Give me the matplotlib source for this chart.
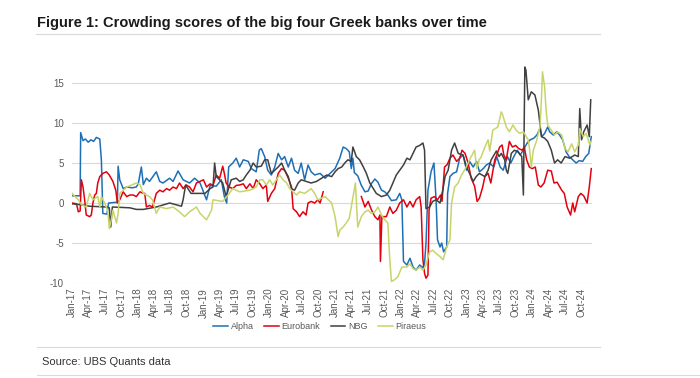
import numpy as np
import pandas as pd
import matplotlib

matplotlib.use("Agg")
import matplotlib.pyplot as plt
import matplotlib.dates as mdates
from matplotlib.lines import Line2D

plt.rcParams["font.family"] = ["Liberation Sans", "DejaVu Sans"]

# ---- data ----
alpha_dates = [
    "2017-01-01", "2017-02-15", "2017-02-18", "2017-03-03", "2017-03-16", "2017-04-01", "2017-04-16",
    "2017-05-01", "2017-05-16", "2017-06-04", "2017-06-13", "2017-06-21", "2017-07-14", "2017-07-23",
    "2017-09-10", "2017-09-14", "2017-09-23", "2017-10-12", "2017-11-01", "2017-12-01", "2017-12-24",
    "2018-01-04", "2018-01-21", "2018-02-01", "2018-02-18", "2018-03-07", "2018-04-14", "2018-05-03",
    "2018-05-21", "2018-06-27", "2018-07-16", "2018-08-13", "2018-09-10", "2018-10-16", "2018-11-13",
    "2018-12-13", "2019-01-18", "2019-02-07", "2019-03-13", "2019-04-10", "2019-04-27", "2019-05-10",
    "2019-05-21", "2019-06-13", "2019-07-02", "2019-07-21", "2019-08-10", "2019-09-07", "2019-09-24",
    "2019-10-21", "2019-11-07", "2019-11-18", "2019-12-07", "2019-12-24", "2020-01-13", "2020-02-01",
    "2020-02-20", "2020-03-10", "2020-03-27", "2020-04-16", "2020-05-04", "2020-05-21", "2020-06-10",
    "2020-06-27", "2020-07-16", "2020-08-04", "2020-08-21", "2020-09-10", "2020-10-10", "2020-11-07",
    "2020-12-04", "2021-01-01", "2021-01-27", "2021-02-15", "2021-03-04", "2021-03-21", "2021-04-01",
    "2021-04-10", "2021-04-18", "2021-05-07", "2021-05-27", "2021-06-16", "2021-07-04", "2021-07-21",
    "2021-08-10", "2021-08-27", "2021-09-16", "2021-10-04", "2021-10-21", "2021-11-10", "2021-12-07",
    "2021-12-26", "2022-01-07", "2022-01-16", "2022-02-04", "2022-02-21", "2022-03-10", "2022-03-27",
    "2022-04-16", "2022-05-04", "2022-05-13", "2022-05-21", "2022-06-01", "2022-06-18", "2022-07-04",
    "2022-07-16", "2022-07-24", "2022-08-07", "2022-08-16", "2022-08-27", "2022-09-13", "2022-09-18",
    "2022-10-01", "2022-10-18", "2022-11-07", "2022-11-24", "2022-12-13", "2023-01-01", "2023-01-18",
    "2023-02-07", "2023-02-26", "2023-03-14", "2023-04-04", "2023-04-21", "2023-05-10", "2023-06-01",
    "2023-06-18", "2023-07-07", "2023-07-24", "2023-08-16", "2023-09-04", "2023-09-21", "2023-10-10",
    "2023-10-27", "2023-11-16", "2023-12-04", "2023-12-21", "2024-01-10", "2024-01-27", "2024-02-13",
    "2024-02-24", "2024-03-10", "2024-03-27", "2024-04-07", "2024-04-27", "2024-05-16", "2024-06-01",
    "2024-06-18", "2024-07-07", "2024-07-24", "2024-08-13", "2024-09-01", "2024-09-18", "2024-10-07",
    "2024-10-24", "2024-11-10", "2024-11-24",
]
alpha_vals = [
    0.9, 0.9, 8.8, 7.8, 8.0, 7.6, 7.9,
    7.7, 8.2, 8.0, 5.4, -1.3, -1.4, 0.0,
    0.1, 4.6, 2.9, 1.8, 2.0, 1.9, 2.0,
    2.4, 4.5, 2.3, 3.1, 2.7, 3.9, 2.7,
    2.5, 3.1, 2.7, 4.0, 2.9, 2.5, 3.1,
    2.5, 0.4, 2.2, 2.1, 2.9, 0.8, 0.0,
    4.5, 5.0, 5.6, 4.5, 5.4, 5.2, 4.3,
    3.9, 6.6, 6.8, 5.8, 4.1, 3.5, 4.5,
    6.2, 5.4, 5.8, 4.5, 5.6, 4.1, 3.7,
    5.0, 2.9, 4.75, 3.9, 3.5, 3.7, 3.1,
    3.7, 4.3, 5.6, 7.0, 6.8, 6.4, 4.3,
    5.6, 3.8, 3.4, 2.2, 1.4, 1.5, 2.4,
    3.0, 2.6, 1.6, 1.4, 1.0, 0.3, 0.4,
    1.2, 0.4, -7.3, -7.75, -6.9, -8.0, -8.4,
    -7.75, -8.1, -7.5, -5.0, 1.6, 3.9, 5.0,
    0.4, -4.6, -5.5, -5.0, -6.1, -5.5, 1.2,
    3.3, 3.7, 3.9, 5.6, 6.0, 4.1, 5.2,
    4.5, 5.2, 3.9, 4.3, 4.75, 5.0, 4.5,
    5.8, 4.5, 4.1, 5.8, 5.0, 5.8, 6.6,
    6.0, 6.8, 7.5, 7.9, 8.1, 8.5, 9.3,
    8.3, 8.7, 9.5, 8.9, 8.5, 8.9, 8.5,
    7.9, 6.4, 5.8, 5.4, 5.0, 5.3, 5.2,
    5.8, 6.2, 8.3,
]

eurobank_dates = [
    "2017-01-01", "2017-01-26", "2017-02-05", "2017-02-15", "2017-02-22", "2017-03-03", "2017-03-12",
    "2017-03-21", "2017-04-09", "2017-04-18", "2017-04-27", "2017-05-07", "2017-05-16", "2017-05-24",
    "2017-06-04", "2017-06-21", "2017-07-11", "2017-07-27", "2017-08-16", "2017-09-01", "2017-09-10",
    "2017-09-23", "2017-10-12", "2017-11-01", "2017-11-18", "2017-12-07", "2017-12-24", "2018-01-13",
    "2018-02-01", "2018-02-09", "2018-02-18", "2018-03-07", "2018-03-24", "2018-04-14", "2018-05-03",
    "2018-05-21", "2018-06-10", "2018-06-27", "2018-07-16", "2018-08-04", "2018-08-21", "2018-09-10",
    "2018-09-27", "2018-10-16", "2018-11-04", "2018-11-23", "2018-12-13", "2019-01-01", "2019-01-18",
    "2019-02-07", "2019-02-23", "2019-03-13", "2019-04-01", "2019-04-18", "2019-04-27", "2019-05-07",
    "2019-05-24", "2019-06-13", "2019-07-02", "2019-07-21", "2019-08-10", "2019-08-27", "2019-09-16",
    "2019-10-04", "2019-10-21", "2019-11-10", "2019-11-27", "2019-12-16", "2019-12-24", "2020-01-13",
    "2020-02-01", "2020-02-20", "2020-03-10", "2020-03-27", "2020-04-16", "2020-05-04", "2020-05-13",
    "2020-06-01", "2020-06-18", "2020-07-07", "2020-07-24", "2020-08-04", "2020-08-21", "2020-09-10",
    "2020-09-27", "2020-10-10", "2020-10-27", "2020-11-01", "2021-05-27", "2021-06-16", "2021-07-04",
    "2021-07-21", "2021-08-10", "2021-08-27", "2021-09-07", "2021-09-10", "2021-09-18", "2021-10-13",
    "2021-11-01", "2021-11-18", "2021-12-07", "2021-12-26", "2022-01-16", "2022-02-04", "2022-02-21",
    "2022-03-10", "2022-03-27", "2022-04-16", "2022-04-24", "2022-05-04", "2022-05-13", "2022-05-21",
    "2022-06-01", "2022-06-07", "2022-06-18", "2022-07-07", "2022-07-24", "2022-08-10", "2022-08-18",
    "2022-09-01", "2022-09-16", "2022-10-01", "2022-10-18", "2022-11-07", "2022-11-24", "2022-12-07",
    "2022-12-24", "2023-01-10", "2023-01-27", "2023-02-15", "2023-03-01", "2023-03-14", "2023-04-01",
    "2023-04-13", "2023-05-01", "2023-05-16", "2023-06-07", "2023-06-18", "2023-07-04", "2023-07-18",
    "2023-07-27", "2023-08-10", "2023-08-27", "2023-09-13", "2023-10-01", "2023-10-18", "2023-11-07",
    "2023-11-18", "2023-12-01", "2023-12-16", "2024-01-01", "2024-01-18", "2024-02-04", "2024-02-18",
    "2024-03-07", "2024-03-27", "2024-04-16", "2024-05-01", "2024-05-18", "2024-06-13", "2024-06-27",
    "2024-07-13", "2024-08-01", "2024-08-13", "2024-08-24", "2024-09-13", "2024-09-27", "2024-10-13",
    "2024-11-01", "2024-11-13", "2024-11-24",
]
eurobank_vals = [
    0.0, -0.1, -1.1, -1.0, 2.9, 2.0, 0.4,
    -1.5, -1.7, -1.5, 0.0, 1.0, 1.2, 2.5,
    3.3, 3.7, 3.9, 3.5, 2.7, 1.6, 0.0,
    0.4, 1.4, 0.8, 1.0, 1.0, 0.8, 1.4,
    1.2, 1.2, -0.5, -0.3, -0.5, 1.2, 1.6,
    1.4, 1.8, 1.6, 2.0, 1.8, 2.5, 1.8,
    2.25, 2.0, 1.4, 2.5, 2.7, 2.9, 2.0,
    2.4, 2.2, 3.5, 3.1, 4.6, 3.7, 2.5,
    2.0, 1.8, 2.2, 2.25, 2.4, 1.8, 2.4,
    1.8, 2.9, 2.4, 1.8, 2.25, 0.2, 1.2,
    1.8, 3.7, 4.3, 4.1, 3.1, 2.0, -0.7,
    -1.1, -1.7, -1.1, -1.5, 0.0, 0.2, 0.0,
    0.4, 0.0, 1.4, np.nan, 0.8, -0.5, 0.2,
    -0.8, -1.7, -2.1, -1.5, -7.3, -1.7, -1.7,
    -0.5, -1.3, -0.9, 0.0, 0.4, -0.5, 0.2,
    -0.5, 0.4, 0.8, -0.5, -7.1, -8.8, -9.4,
    -9.0, -0.9, 0.6, 0.8, 0.4, 1.0, 0.2,
    4.5, 4.8, 5.6, 6.0, 5.2, 5.6, 6.6,
    6.2, 5.0, 3.1, 2.1, 0.2, 0.6, 2.0,
    3.3, 3.7, 2.5, 5.4, 6.0, 7.0, 7.25,
    6.0, 5.4, 7.7, 7.0, 7.2, 6.8, 6.6,
    7.0, 5.4, 4.5, 4.3, 4.5, 2.25, 2.0,
    2.5, 4.1, 4.0, 2.5, 2.6, 1.6, 1.2,
    -0.5, -1.5, 0.0, -1.1, 0.8, 1.2, 0.9,
    0.0, 2.0, 4.3,
]

nbg_dates = [
    "2017-01-01", "2017-02-14", "2017-04-09", "2017-07-11", "2017-07-27", "2017-08-04", "2017-08-13",
    "2017-11-18", "2017-12-24", "2018-02-01", "2018-04-14", "2018-06-27", "2018-09-01", "2018-09-10",
    "2018-09-24", "2018-10-24", "2018-12-02", "2019-01-10", "2019-02-07", "2019-02-23", "2019-03-04",
    "2019-03-13", "2019-04-01", "2019-04-18", "2019-05-07", "2019-06-04", "2019-07-02", "2019-07-21",
    "2019-08-10", "2019-08-27", "2019-09-16", "2019-10-04", "2019-10-21", "2019-11-18", "2019-12-07",
    "2019-12-24", "2020-01-13", "2020-02-20", "2020-03-10", "2020-03-27", "2020-04-16", "2020-05-04",
    "2020-05-21", "2020-06-10", "2020-06-27", "2020-07-24", "2020-08-21", "2020-09-20", "2020-10-18",
    "2020-11-16", "2020-12-13", "2021-01-01", "2021-01-18", "2021-02-07", "2021-02-24", "2021-03-13",
    "2021-04-01", "2021-04-10", "2021-04-29", "2021-05-17", "2021-06-07", "2021-06-24", "2021-07-13",
    "2021-08-01", "2021-08-18", "2021-09-16", "2021-10-13", "2021-11-01", "2021-11-18", "2021-12-07",
    "2021-12-26", "2022-01-16", "2022-02-04", "2022-02-21", "2022-03-10", "2022-03-27", "2022-04-16",
    "2022-05-04", "2022-05-13", "2022-05-21", "2022-06-10", "2022-06-27", "2022-07-16", "2022-08-07",
    "2022-08-24", "2022-09-04", "2022-09-21", "2022-10-10", "2022-10-27", "2022-11-16", "2022-12-13",
    "2023-01-01", "2023-01-18", "2023-02-07", "2023-02-24", "2023-03-13", "2023-04-13", "2023-05-01",
    "2023-05-18", "2023-06-16", "2023-07-01", "2023-07-13", "2023-08-01", "2023-08-10", "2023-08-18",
    "2023-09-07", "2023-09-24", "2023-10-13", "2023-11-04", "2023-11-13", "2023-11-21", "2023-11-27",
    "2023-12-10", "2023-12-27", "2024-01-16", "2024-02-04", "2024-02-21", "2024-03-10", "2024-03-27",
    "2024-04-16", "2024-05-04", "2024-05-21", "2024-06-10", "2024-07-01", "2024-07-27", "2024-08-24",
    "2024-09-13", "2024-09-21", "2024-10-01", "2024-10-13", "2024-11-01", "2024-11-13", "2024-11-21",
]
nbg_vals = [
    -0.1, -0.2, -0.4, -0.5, -0.6, -3.0, -0.5,
    -0.6, -0.8, -0.8, -0.5, 0.0, -0.4, 0.4,
    2.25, 1.2, 1.2, 1.2, 1.8, 2.0, 5.0,
    3.3, 2.9, 2.5, 0.8, 2.9, 3.1, 2.7,
    2.9, 3.5, 4.1, 5.0, 4.5, 4.6, 5.4,
    5.4, 3.7, 4.5, 5.0, 4.1, 3.3, 1.8,
    1.6, 2.5, 2.9, 2.7, 2.5, 2.7, 3.1,
    3.5, 3.3, 3.9, 4.3, 4.5, 5.0, 5.4,
    5.2, 7.0, 5.8, 5.4, 4.5, 3.7, 2.5,
    1.8, 1.2, 0.8, 1.0, 1.6, 2.5, 3.5,
    4.1, 4.75, 5.6, 5.4, 6.2, 7.0, 7.2,
    7.5, 6.6, -0.7, -0.5, 0.2, 0.4, 0.0,
    1.8, 3.3, 4.1, 6.6, 7.5, 6.2, 6.0,
    4.5, 3.7, 2.7, 3.3, 3.7, 3.3, 4.1,
    5.4, 6.5, 5.8, 6.2, 5.4, 4.1, 3.7,
    6.2, 6.6, 6.4, 5.8, 1.0, 17.0, 16.6,
    12.9, 13.9, 13.5, 11.6, 8.3, 8.1, 7.7,
    6.6, 5.0, 5.4, 5.0, 5.8, 5.6, 6.0,
    5.8, 11.8, 7.9, 8.9, 9.75, 8.3, 12.9,
]

piraeus_dates = [
    "2017-01-01", "2017-02-05", "2017-02-22", "2017-03-21", "2017-04-09", "2017-04-27", "2017-05-24",
    "2017-06-04", "2017-06-13", "2017-07-01", "2017-07-18", "2017-07-27", "2017-08-07", "2017-08-16",
    "2017-09-05", "2017-09-14", "2017-09-23", "2017-11-01", "2017-12-24", "2018-01-13", "2018-02-01",
    "2018-03-07", "2018-03-24", "2018-04-14", "2018-05-03", "2018-06-10", "2018-07-16", "2018-08-21",
    "2018-09-18", "2018-10-16", "2018-11-23", "2018-12-13", "2019-01-18", "2019-02-15", "2019-02-23",
    "2019-04-18", "2019-05-24", "2019-06-13", "2019-07-21", "2019-09-16", "2019-10-21", "2019-11-10",
    "2019-11-27", "2019-12-16", "2020-01-04", "2020-01-21", "2020-02-28", "2020-03-18", "2020-04-07",
    "2020-04-24", "2020-06-01", "2020-06-18", "2020-07-16", "2020-08-21", "2020-09-10", "2020-09-27",
    "2020-11-07", "2020-12-13", "2021-01-01", "2021-01-18", "2021-01-27", "2021-02-15", "2021-03-04",
    "2021-03-21", "2021-04-24", "2021-05-07", "2021-05-27", "2021-06-16", "2021-07-04", "2021-07-21",
    "2021-08-10", "2021-08-27", "2021-09-16", "2021-10-04", "2021-10-21", "2021-11-01", "2021-11-10",
    "2021-11-27", "2021-12-16", "2022-01-07", "2022-02-04", "2022-02-21", "2022-03-10", "2022-03-27",
    "2022-04-16", "2022-05-04", "2022-05-21", "2022-06-10", "2022-06-27", "2022-07-16", "2022-08-07",
    "2022-08-24", "2022-09-13", "2022-10-01", "2022-10-10", "2022-10-27", "2022-11-16", "2022-12-04",
    "2022-12-21", "2023-01-10", "2023-01-27", "2023-02-15", "2023-02-27", "2023-03-13", "2023-03-24",
    "2023-04-13", "2023-05-01", "2023-05-10", "2023-05-27", "2023-06-24", "2023-07-13", "2023-07-21",
    "2023-08-10", "2023-08-27", "2023-09-16", "2023-10-04", "2023-10-23", "2023-11-13", "2023-12-10",
    "2023-12-18", "2023-12-27", "2024-01-07", "2024-01-24", "2024-02-13", "2024-02-21", "2024-02-27",
    "2024-03-10", "2024-03-18", "2024-03-27", "2024-04-16", "2024-05-04", "2024-05-21", "2024-06-13",
    "2024-07-01", "2024-07-18", "2024-08-07", "2024-08-24", "2024-09-13", "2024-09-21", "2024-10-10",
    "2024-10-27", "2024-11-16", "2024-11-21",
]
piraeus_vals = [
    1.2, 0.4, -0.2, -0.5, 1.2, 0.4, 0.8,
    -0.5, 0.8, 0.0, -0.9, -3.2, -2.1, -0.9,
    -2.5, -1.3, 1.2, 2.0, 2.5, 2.3, 1.2,
    0.8, 0.4, -1.3, -0.5, -0.7, -0.5, -1.1,
    -1.7, -1.1, -0.5, -1.3, -2.1, -0.9, 0.4,
    0.2, 1.2, 1.8, 1.4, 1.6, 2.0, 2.9,
    2.9, 2.25, 2.9, 2.25, 3.5, 2.9, 2.5,
    1.8, 1.0, 1.4, 1.2, 1.8, 1.2, 0.4,
    0.8, 0.0, -1.7, -4.2, -3.4, -3.0, -2.5,
    -1.9, 2.5, -3.0, -1.7, -1.1, -0.9, -1.3,
    -1.1, -0.5, -1.5, -2.1, -2.5, -7.1, -9.8,
    -9.6, -9.2, -8.0, -8.0, -7.6, -8.2, -8.4,
    -8.0, -8.4, -7.75, -6.1, -5.9, -6.3, -6.7,
    -7.1, -5.5, -4.6, 0.0, 2.0, 2.5, 3.5,
    4.1, 5.0, 5.8, 6.6, 4.3, 5.4, 5.8,
    7.0, 7.9, 6.5, 9.1, 9.5, 11.4, 11.0,
    9.5, 8.9, 9.75, 9.1, 8.7, 8.9, 7.9,
    6.6, 4.5, 6.6, 7.7, 9.5, 12.9, 16.4,
    14.5, 11.6, 9.75, 9.1, 8.5, 8.9, 8.5,
    6.8, 6.4, 7.4, 6.4, 7.25, 9.3, 8.3,
    8.7, 7.25, 7.7,
]

series_names = ["Alpha", "Eurobank", "NBG", "Piraeus"]
series_colors = ["#1f6fb5", "#e3000f", "#404040", "#c8d46a"]
series_data = [
    (alpha_dates, alpha_vals),
    (eurobank_dates, eurobank_vals),
    (nbg_dates, nbg_vals),
    (piraeus_dates, piraeus_vals),
]

y_ticks = [-10, -5, 0, 5, 10, 15]
x_start, x_end = "2017-01-01", "2024-11-28"

# ---- figure ----
fig = plt.figure(figsize=(7.0, 3.78), dpi=100)
ax = fig.add_axes([0.1029, 0.2513, 0.7428, 0.5926])

for (d, v), name, col in zip(series_data, series_names, series_colors):
    ax.plot(pd.to_datetime(d), v, color=col, linewidth=1.1, label=name)

ax.set_xlim(pd.Timestamp(x_start), pd.Timestamp(x_end))
ax.set_ylim(-10, 18)
ax.set_yticks(y_ticks)
ax.set_yticklabels([str(t) for t in y_ticks])
ax.xaxis.set_major_locator(mdates.MonthLocator(bymonth=[1, 4, 7, 10]))
ax.xaxis.set_major_formatter(mdates.DateFormatter("%b-%y"))
plt.setp(ax.get_xticklabels(), rotation=90, ha="center", va="top")
ax.tick_params(axis="both", length=0, labelsize=7, labelcolor="#595959")
ax.tick_params(axis="x", pad=3.5)
ax.tick_params(axis="y", pad=6)
ax.grid(axis="y", color="#d9d9d9", linewidth=0.8)
ax.set_axisbelow(True)
for s in ax.spines.values():
    s.set_visible(False)

handles = [Line2D([0], [0], color=c, linewidth=1.1) for c in series_colors]
fig.legend(handles, series_names, loc="center", bbox_to_anchor=(0.457, 0.135),
           ncol=4, frameon=False, fontsize=6.5, labelcolor="#595959",
           handlelength=1.6, handletextpad=0.3, columnspacing=1.2)

fig.text(0.0524, 1 - 26.7 / 378, "Figure 1: Crowding scores of the big four Greek banks over time",
         fontsize=10.5, fontweight="bold", color="#1a1a1a", va="baseline", ha="left",
         family=["Liberation Sans Narrow", "Liberation Sans"])
fig.text(0.0596, 1 - 361.7 / 378, "Source: UBS Quants data", fontsize=8,
         color="#333333", va="center", ha="left")

for y, x0, x1 in [(33.5, 36, 600), (346.7, 37, 600), (375, 37, 700)]:
    fig.add_artist(Line2D([x0 / 700, x1 / 700], [1 - y / 378, 1 - y / 378],
                          color="#d9d9d9", linewidth=0.8, transform=fig.transFigure))

fig.savefig("out.png", dpi=100, facecolor="white")
